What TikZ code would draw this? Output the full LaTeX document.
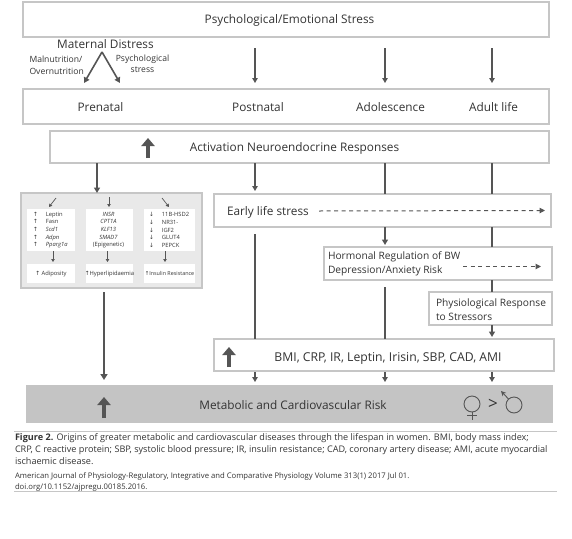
\documentclass[tikz,border=0pt]{standalone}
\usepackage{fontspec}
\setmainfont{Open Sans}
\newfontfamily\symfont{DejaVu Sans}
\usetikzlibrary{positioning,arrows.meta,calc}
\definecolor{boxgray}{HTML}{C6C6C6}
\definecolor{riskgray}{HTML}{C4C4C4}
\definecolor{panelgray}{HTML}{E9E9E9}
\definecolor{arrgray}{HTML}{555555}
\definecolor{textgray}{HTML}{333333}
\newcommand{\upmark}{\makebox[10pt][l]{\symfont ↑}}
\newcommand{\downmark}{\makebox[10pt][l]{\symfont ↓}}
\newcommand{\fsize}[2]{\fontsize{#1}{#2}\selectfont}
\tikzset{
    x=1pt,y=-1pt,
    every node/.style={text=textgray,outer sep=0pt,inner sep=0pt},
    stagebox/.style={draw=boxgray,line width=1.2pt,fill=white,anchor=north west},
    genebox/.style={fill=white,anchor=north west},
    label12/.style={font=\fsize{11.8}{14}},
    label7/.style={font=\fsize{8.6}{11.5}},
    gene/.style={font=\fsize{5.8}{7.7},align=left},
    thinarr/.style={draw=arrgray,line width=1.1pt,-{Triangle[length=5pt,width=5.5pt]}},
    thickarr/.style={draw=arrgray,line width=1.6pt,-{Triangle[length=5.5pt,width=6pt]}},
    thickline/.style={draw=arrgray,line width=1.6pt},
    smallarr/.style={draw=arrgray,line width=0.7pt,-{Triangle[length=3pt,width=3.5pt]}},
    dasharr/.style={draw=arrgray,line width=1pt,dash pattern=on 4pt off 3.5pt,-{Triangle[length=5.5pt,width=5.5pt]}},
    bigup/.style={draw=arrgray,line width=3.4pt,-{Triangle[length=8pt,width=13pt]}},
    sexsign/.style={draw=arrgray,line width=0.9pt},
}
\begin{document}
\begin{tikzpicture}
    \useasboundingbox (0,0) rectangle (572,538);
    % column positions
    \coordinate (colA) at (97,0);
    \coordinate (colB) at (255,0);
    \coordinate (colC) at (385,0);
    \coordinate (colD) at (492,0);
    \coordinate (colE) at (104,0);
    % stage boxes
    \node[stagebox,minimum width=526pt,minimum height=35pt] (stress) at (23,2) {};
    \node[stagebox,minimum width=526pt,minimum height=35pt] (stages) at (23,89) {};
    \node[stagebox,minimum width=499pt,minimum height=32pt] (neuro) at (50,131) {};
    \node[stagebox,minimum width=337pt,minimum height=33pt] (early) at (214,194) {};
    \node[stagebox,minimum width=228pt,minimum height=33pt] (hormonal) at (324,247) {};
    \node[stagebox,minimum width=123pt,minimum height=33pt] (physio) at (429,292) {};
    \node[stagebox,minimum width=340pt,minimum height=32pt] (markers) at (214,339) {};
    \node[fill=riskgray,anchor=north west,minimum width=527pt,minimum height=38pt] (risk) at (26,385) {};
    % stage labels
    \node[label12] (stresstext) at (289.5,20) {Psychological/Emotional Stress};
    \node[label12] (prenatal) at (100.5,107.5) {Prenatal};
    \node[label12] (postnatal) at (258,107.5) {Postnatal};
    \node[label12] (adolescence) at (390.5,107.5) {Adolescence};
    \node[label12] (adult) at (493.5,107.5) {Adult life};
    \node[label12] (neurotext) at (294.5,148) {Activation Neuroendocrine Responses};
    \node[label12,anchor=west] (earlytext) at (227,212) {Early life stress};
    \node[font=\fsize{10.2}{13.5},align=left,anchor=west] (hormtext) at (328,264) {Hormonal Regulation of BW\\Depression/Anxiety Risk};
    \node[font=\fsize{10.2}{13.5},align=left,anchor=west] (physiotext) at (436,309.5) {Physiological Response\\to Stressors};
    \node[font=\fsize{12.2}{14}] (markertext) at (388,358.5) {BMI, CRP, IR, Leptin, Irisin, SBP, CAD, AMI};
    \node[label12] (risktext) at (293,405) {Metabolic and Cardiovascular Risk};
    % maternal distress
    \node[label12] (maternal) at (105.5,44.5) {Maternal Distress};
    \node[label7,align=left,anchor=west] (malnut) at (29.5,65.5) {Malnutrition/\\Overnutrition};
    \node[label7,align=center] (psychst) at (142.5,64) {Psychological\\stress};
    \coordinate (apex) at (102,52);
    \coordinate (mleft) at (84,83);
    \coordinate (mright) at (120,83);
    \draw[thickarr] (apex) -- (mleft);
    \draw[thickarr] (apex) -- (mright);
    % left panel
    \node[draw=boxgray,line width=1.2pt,fill=panelgray,anchor=north west,minimum width=181pt,minimum height=95pt] (panel) at (21,193) {};
    \node[genebox,minimum width=48pt,minimum height=42pt] (genesA) at (27,209) {};
    \node[genebox,minimum width=47pt,minimum height=42pt] (genesB) at (86,209) {};
    \node[genebox,minimum width=51pt,minimum height=42pt] (genesC) at (144,209) {};
    \node[genebox,minimum width=48pt,minimum height=19pt] (outA) at (27,264) {};
    \node[genebox,minimum width=47pt,minimum height=19pt] (outB) at (86,264) {};
    \node[genebox,minimum width=51pt,minimum height=19pt] (outC) at (144,264) {};
    \node[gene,anchor=west] (listA) at (33,230) {\upmark\enspace Leptin\\\upmark\enspace Fasn\\\upmark\enspace\textit{Scd1}\\\upmark\enspace\textit{Adpn}\\\upmark\enspace\textit{Pparg1a}};
    \node[gene,align=center] (listB) at (108.5,230) {\textit{INSR}\\\textit{CPT1A}\\\textit{KLF13}\\\textit{SMAD7}\\(Epigenetic)};
    \node[gene,anchor=west] (listC) at (149,230) {\downmark\enspace 11B-HSD2\\\downmark\enspace NR31-\\\downmark\enspace IGF2\\\downmark\enspace GLUT4\\\downmark\enspace PEPCK};
    \node[gene] (adiposity) at (51,273.5) {{\symfont ↑} Adiposity};
    \node[gene] (hyperlip) at (109.5,273.5) {{\symfont ↑}Hyperlipidaemia};
    \node[font=\fsize{5.4}{7.7}] (insulin) at (169.5,273.5) {{\symfont ↑}Insulin Resistance};
    \coordinate (dA1) at (56,198);
    \coordinate (dA2) at (49,207);
    \coordinate (dB1) at (109,197);
    \coordinate (dB2) at (109,207);
    \coordinate (dC1) at (162,198);
    \coordinate (dC2) at (169,207);
    \draw[smallarr] (dA1) -- (dA2);
    \draw[smallarr] (dB1) -- (dB2);
    \draw[smallarr] (dC1) -- (dC2);
    \draw[smallarr] ($(genesA.south)+(2,0)$) -- ($(outA.north)+(2,-2)$);
    \draw[smallarr] ($(genesB.south)+(-2,0)$) -- ($(outB.north)+(-2,-2)$);
    \draw[smallarr] ($(genesC.south)+(-4.5,0)$) -- ($(outC.north)+(-4.5,-2)$);
    % connectors
    \foreach \col in {colB,colC,colD} {
        \coordinate (s\col) at ($(stress.south -| \col)+(0,11)$);
        \draw[thinarr] (s\col) -- ($(stages.north -| \col)+(0,-6)$);
        \draw[thinarr] ($(markers.south -| \col)+(0,1)$) -- ($(risk.north -| \col)+(0,-3)$);
    }
    \draw[thickarr] (neuro.south -| colA) -- (panel.north -| colA);
    \draw[thinarr] (neuro.south -| colB) -- ($(early.north -| colB)+(0,-3)$);
    \draw[thickline] (neuro.south -| colC) -- (early.north -| colC);
    \draw[thickline] (neuro.south -| colD) -- (early.north -| colD);
    \draw[thickarr] (early.south -| colC) -- ($(hormonal.north -| colC)+(0,-2)$);
    \draw[thickline] (early.south -| colD) -- (hormonal.north -| colD);
    \draw[thickline] (hormonal.south -| colD) -- (physio.north -| colD);
    \draw[thickarr] (physio.south -| colD) -- ($(markers.north -| colD)+(0,-2)$);
    \coordinate (gapB) at ($(early.south -| colB)+(0,7)$);
    \coordinate (gapC) at ($(hormonal.south -| colC)+(0,7)$);
    \draw[thickline] (gapB) -- (markers.north -| colB);
    \draw[thickline] (gapC) -- (markers.north -| colC);
    \coordinate (gapE) at ($(panel.south -| colE)+(0,4)$);
    \draw[draw=arrgray,line width=2pt,-{Triangle[length=6pt,width=7pt]}] (gapE) -- ($(risk.north -| colE)+(0,-5)$);
    % dashed arrows
    \coordinate (dashA) at ($(early.east)+(-6,0)$);
    \coordinate (dashB) at ($(hormonal.east)+(-11,0)$);
    \draw[dasharr] (319,211) coordinate (dashD) -- (dashA);
    \draw[dasharr] (463,266.5) coordinate (dashC) -- (dashB |- dashC);
    % big arrows
    \draw[bigup] (148,158) coordinate (upA) -- (148,138);
    \draw[bigup] (229,367) coordinate (upB) -- (229,347);
    \draw[bigup] (104,418) coordinate (upC) -- (104,397);
    % venus and mars
    \draw[sexsign] (472,404) circle (8);
    \draw[sexsign] (472,412) -- (472,420) (467,415.5) -- (477,415.5);
    \node[font=\fsize{17}{18}] (greater) at (493,404) {>};
    \draw[sexsign] (514,405) circle (8);
    \draw[sexsign,-{Stealth[length=5pt,width=5pt]}] (508.5,399) -- (501,391);
    % caption
    \draw[draw=boxgray,line width=0.6pt] (14,431) coordinate (ruleA) -- (557,431);
    \draw[draw=boxgray,line width=0.6pt] (14,491) coordinate (ruleB) -- (557,491);
    \node[font=\fsize{9.1}{12},align=left,anchor=north west] (caption) at (15,434) {\textbf{Figure 2.} Origins of greater metabolic and cardiovascular diseases through the lifespan in women. BMI, body mass index;\\CRP, C reactive protein; SBP, systolic blood pressure; IR, insulin resistance; CAD, coronary artery disease; AMI, acute myocardial\\ischaemic disease.};
    \node[font=\fsize{7.7}{11},align=left,anchor=north west] (source) at (15,472.5) {American Journal of Physiology-Regulatory, Integrative and Comparative Physiology Volume 313(1) 2017 Jul 01.\\doi.org/10.1152/ajpregu.00185.2016.};
\end{tikzpicture}
\end{document}
